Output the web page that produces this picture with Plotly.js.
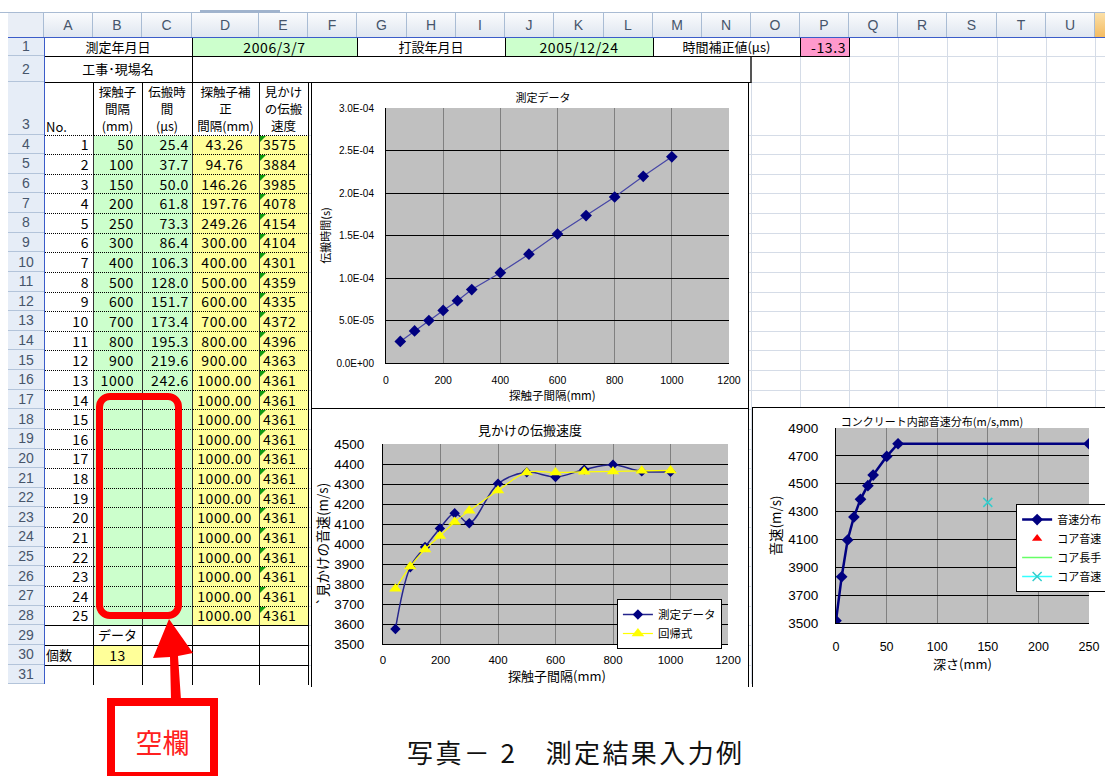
<!DOCTYPE html>
<html><head><meta charset="utf-8">
<script src="https://cdn.plot.ly/plotly-3.0.1.min.js"></script>
<style>
html,body{margin:0;padding:0;background:#fff;}
body{width:1105px;height:776px;overflow:hidden;position:relative;font-family:"Noto Sans CJK JP","Noto Sans",sans-serif;}
#clip{position:absolute;left:0;top:0;width:1105px;height:687px;overflow:hidden;}
.c{position:absolute;box-sizing:border-box;display:flex;align-items:center;overflow:hidden;white-space:nowrap;font-size:13px;color:#000;line-height:16px;}
.num{font-size:14px;letter-spacing:0.6px;}
.frame{position:absolute;box-sizing:border-box;border:1px solid #000;background:#fff;overflow:hidden;}
.frame>div{position:absolute;left:0;top:0;}
</style></head><body>
<div id="clip">
  <div id="sheet"></div>
  <div class="frame" style="left:311px;top:82px;width:438px;height:327px;"><div id="ch1"></div></div>
  <div class="frame" style="left:311px;top:408px;width:438px;height:290px;"><div id="ch2"></div></div>
  <div class="frame" style="left:752px;top:407px;width:402px;height:290px;"><div id="ch3"></div></div>
</div>
<div id="notes"></div>
<script>
// ---------------- data ----------------
const measureDate = '2006/3/7';
const castDate = '2005/12/24';
const timeCorrection = '-13.3';
const rowNumbers = [1,2,3,4,5,6,7,8,9,10,11,12,13,14,15,16,17,18,19,20,21,22,23,24,25];
const probeSpacing = [50,100,150,200,250,300,400,500,600,700,800,900,1000];            // mm
const travelTime = [25.4,37.7,50.0,61.8,73.3,86.4,106.3,128.0,151.7,173.4,195.3,219.6,242.6]; // µs
const correctedSpacing = [43.26,94.76,146.26,197.76,249.26,300.00,400.00,500.00,600.00,700.00,800.00,900.00,1000.00,
  1000.00,1000.00,1000.00,1000.00,1000.00,1000.00,1000.00,1000.00,1000.00,1000.00,1000.00,1000.00];
const apparentVelocity = [3575,3884,3985,4078,4154,4104,4301,4359,4335,4372,4396,4363,4361,
  4361,4361,4361,4361,4361,4361,4361,4361,4361,4361,4361,4361];
const dataCount = 13;
const regressionVelocity = [3776,3888,3973,4040,4110,4166,4268,4358,4358,4361,4363,4366,4368];
const depth = [0,5.6,11.5,17.7,24.2,31.5,36.7,50.1,61.3,250];
const velocityProfile = [3517,3832,4096,4261,4388,4486,4562,4696,4787,4787];
const coreDepth = [150];
const coreVelocity = [4366];
const coreTriangleDepth = [null];
const coreTriangleVelocity = [null];
const coreLengthDepth = [null];
const coreLengthVelocity = [null];
const timeTickVals = [0,50,100,150,200,250,300];
const timeTickText = ['0.0E+00','5.0E-05','1.0E-04','1.5E-04','2.0E-04','2.5E-04','3.0E-04'];
const colLetters = ['A','B','C','D','E','F','G','H','I','J','K','L','M','N','O','P','Q','R','S','T','U',''];

// ---------------- spreadsheet ----------------
const colEdges = [44,93,142,192,259,308,357,407,456,505,554,604,653,702,751,800,849,898,947,997,1046,1095,1144];
function rowTop(n){ if(n===1) return 37; if(n===2) return 56; if(n===3) return 82; return 134.5+(n-4)*19.63; }
function rowBot(n){ return n===31 ? 684 : rowTop(n+1); }
const S = document.getElementById('sheet');
function el(x,y,w,h,css,html,cls){
  const d=document.createElement('div'); d.className='c'+(cls?' '+cls:'');
  d.style.cssText='left:'+x+'px;top:'+y+'px;width:'+w+'px;height:'+h+'px;'+(css||'');
  if(html!=null) d.innerHTML=html; S.appendChild(d); return d;
}
function line(x,y,w,h,color){ return el(x,y,w,h,'background:'+color+';'); }
function cell(c0,c1,n,text,o){
  o=o||{};
  const x0=colEdges[c0], x1=colEdges[c1+1], y0=rowTop(n), y1=rowBot(n);
  let css='background:'+(o.bg||'#fff')+';border-right:'+(o.br||'1px solid #000')+';border-bottom:'+(o.bb||'1px solid #000')+';';
  css+='justify-content:'+(o.jc||'center')+';align-items:'+(o.ai||'center')+';';
  if(o.pad) css+='padding:'+o.pad+';';
  if(o.extra) css+=o.extra;
  return el(x0,y0,x1-x0+1,y1-y0+1,css,text,o.cls);
}
const GRID='#d5dce7';
colEdges.forEach(x=>line(x,37,1,647,GRID));
for(let n=1;n<=31;n++) line(44,rowTop(n),1061,1,GRID);

// top strip
line(0,12,1105,1,'#a9bbd3');
line(200,10,80,3,'#a0b3cd');
// column headers
el(8,13,36,24,'background:#e9eef6;border-right:1px solid #a9bcd4;');
for(let i=0;i<colLetters.length;i++){
  const x0=colEdges[i], x1=colEdges[i+1];
  const bg = colLetters[i]==='' ? 'linear-gradient(#fbe0a8,#f4bc62)' : 'linear-gradient(#fafbfd,#dfe6f0)';
  el(x0,13,x1-x0,24,'background:'+bg+';border-right:1px solid #a9bcd4;justify-content:center;color:#46556b;font-size:14px;font-family:Liberation Sans,sans-serif;',colLetters[i]);
}
// row headers
for(let n=1;n<=31;n++){
  const y0=rowTop(n), y1=rowBot(n);
  el(8,y0,36,y1-y0,'background:#e6edf7;border-bottom:1px solid #b3c4da;justify-content:center;color:#46556b;font-size:14px;font-family:Liberation Sans,sans-serif;'+(n===3?'align-items:flex-end;padding-bottom:2px;':''),String(n));
}
// Cells are drawn from the bottom-right towards the top-left so each cell's right/bottom border stays visible.
const cellQueue = [];
function q(){ cellQueue.push(arguments); }
// row 1
q(0,2,1,'測定年月日');
q(3,5,1,measureDate,{bg:'#ccffcc',cls:'num'});
q(6,8,1,'打設年月日');
q(9,11,1,castDate,{bg:'#ccffcc',cls:'num'});
q(12,14,1,'時間補正値(μs)');
q(15,15,1,timeCorrection,{bg:'#ff99cc',jc:'flex-end',pad:'0 3px 0 0',cls:'num'});
// row 2
q(0,2,2,'工事･現場名');
q(3,13,2,'',{br:'2px solid #555'});
// row 3 headers
q(0,0,3,'No.',{jc:'flex-start',ai:'flex-end',pad:'0 0 0 2px',bb:'1px dotted #000'});
const hdr3 = ['探触子<br>間隔<br>(mm)','伝搬時<br>間<br>(μs)','探触子補<br>正<br>間隔(mm)','見かけ<br>の伝搬<br>速度'];
hdr3.forEach((t,i)=>q(i+1,i+1,3,'<div style="text-align:center;line-height:17px;font-size:12.5px">'+t+'</div>',{ai:'flex-end',pad:'0 0 1px 0',bb:'1px dotted #000'}));
// data rows
for(let k=0;k<rowNumbers.length;k++){
  const n=k+4, last=(k===rowNumbers.length-1);
  const bb = last ? '1px solid #000' : '1px dotted #000';
  q(0,0,n,String(rowNumbers[k]),{jc:'flex-end',pad:'0 4px 0 0',bb:bb,br:'1px solid #333',cls:'num'});
  q(1,1,n,k<probeSpacing.length?String(probeSpacing[k]):'',{bg:'#ccffcc',jc:'flex-end',pad:'0 8px 0 0',bb:bb,br:'1px solid #333',cls:'num'});
  q(2,2,n,k<travelTime.length?travelTime[k].toFixed(1):'',{bg:'#ccffcc',jc:'flex-end',pad:'0 3px 0 0',bb:bb,br:'1px solid #333',cls:'num'});
  q(3,3,n,correctedSpacing[k].toFixed(2),{bg:'#ffff99',jc:'center',pad:'0 2px 0 0',bb:bb,br:'1px solid #333',cls:'num'});
  q(4,4,n,String(apparentVelocity[k]),{bg:'#ffff99',jc:'flex-start',pad:'0 0 0 4px',bb:bb,br:'1px solid #000',cls:'num',tri:true});
}
q(0,0,29,''); q(1,1,29,'データ'); q(2,2,29,''); q(3,3,29,''); q(4,4,29,'');
q(0,0,30,'個数',{jc:'flex-start',pad:'0 0 0 2px'}); q(1,1,30,String(dataCount),{bg:'#ffff99',cls:'num'});
q(2,2,30,''); q(3,3,30,''); q(4,4,30,'');
q(0,0,31,'',{bb:'none'}); q(1,1,31,'',{bb:'none'}); q(2,2,31,'',{bb:'none'}); q(3,3,31,'',{bb:'none'}); q(4,4,31,'',{bb:'none'});
cellQueue.sort((a,b)=> (b[2]-a[2]) || (b[0]-a[0]));
cellQueue.forEach(a=>{
  const d = cell.apply(null,a);
  const o = a[4]||{};
  if(o.tri){
    const tri=document.createElement('div');
    tri.style.cssText='position:absolute;left:1px;top:1px;width:0;height:0;border-top:6px solid #119a11;border-right:6px solid transparent;';
    d.appendChild(tri);
  }
});
// blue frame lines
line(8,37,1097,1,'#3b5cc9');
line(44,37,1,647,'#3b5cc9');

// ---------------- charts ----------------
const FONT = '"Noto Sans CJK JP", "Noto Sans", sans-serif';
const NUMFONT = '"Liberation Sans", Arial, sans-serif';
const cfg = {staticPlot:true, displayModeBar:false};

Plotly.newPlot('ch1', [{
  x: probeSpacing, y: travelTime, type:'scatter', mode:'lines+markers', name:'測定データ',
  line:{color:'#4646a6', width:1.2},
  marker:{symbol:'diamond', size:9, color:'#000080'}
}], {
  width:436, height:325, margin:{l:74,r:19,t:25,b:45},
  paper_bgcolor:'#fff', plot_bgcolor:'#c0c0c0', showlegend:false,
  font:{family:FONT, color:'#000'},
  title:{text:'測定データ', font:{size:11, family:FONT}, xref:'container', yref:'container', x:0.53, y:0.954, xanchor:'center', yanchor:'middle'},
  xaxis:{range:[0,1200], tick0:0, dtick:200, showgrid:true, gridcolor:'#808080', gridwidth:1, zeroline:false,
    showline:true, linecolor:'#000', linewidth:1, ticks:'', tickfont:{size:10.5, family:NUMFONT}, ticklabelstandoff:7},
  yaxis:{range:[0,300], tickvals:timeTickVals, ticktext:timeTickText, showgrid:true, gridcolor:'#000', gridwidth:1, zeroline:false,
    showline:true, linecolor:'#000', linewidth:1, ticks:'', tickfont:{size:10, family:NUMFONT}, ticklabelstandoff:9,
    title:{text:'伝搬時間(s)', font:{size:11}, standoff:3}},
  annotations:[{text:'探触子間隔(mm)', xref:'paper', yref:'paper', x:0.484, y:0, yshift:-32, xanchor:'center', yanchor:'middle', showarrow:false, font:{size:11.5}}]
}, cfg);

Plotly.newPlot('ch2', [{
  x: correctedSpacing.slice(0,dataCount), y: apparentVelocity.slice(0,dataCount), type:'scatter', mode:'lines+markers', name:'測定データ',
  line:{color:'#25258c', width:1.5, shape:'spline', smoothing:1},
  marker:{symbol:'diamond', size:8, color:'#000080'}
},{
  x: correctedSpacing.slice(0,dataCount), y: regressionVelocity, type:'scatter', mode:'lines+markers', name:'回帰式',
  line:{color:'#ffff00', width:1.2, shape:'spline', smoothing:1},
  marker:{symbol:'triangle-up', size:11, color:'#ffff00'}
}], {
  width:436, height:288, margin:{l:71,r:20,t:35,b:53},
  paper_bgcolor:'#fff', plot_bgcolor:'#c0c0c0',
  font:{family:FONT, color:'#000'},
  title:{text:'見かけの伝搬速度', font:{size:13, family:FONT}, xref:'container', yref:'container', x:0.5, y:0.927, xanchor:'center', yanchor:'middle'},
  legend:{x:0.678, y:0.225, xanchor:'left', yanchor:'top', bgcolor:'#fff', bordercolor:'#000', borderwidth:1, font:{size:11.5}, tracegroupgap:0},
  xaxis:{range:[0,1200], tick0:0, dtick:200, showgrid:true, gridcolor:'#808080', gridwidth:1, zeroline:false,
    showline:true, linecolor:'#000', linewidth:1, ticks:'', tickfont:{size:11.5, family:NUMFONT}, ticklabelstandoff:5},
  yaxis:{range:[3500,4500], tick0:3500, dtick:100, showgrid:true, gridcolor:'#000', gridwidth:1, zeroline:false,
    showline:true, linecolor:'#000', linewidth:1, ticks:'', tickfont:{size:13.5, family:NUMFONT}, ticklabelstandoff:15,
    title:{text:'`見かけの音速(m/s)', font:{size:13.5}, standoff:3}},
  annotations:[{text:'探触子間隔(mm)', xref:'paper', yref:'paper', x:0.504, y:0, yshift:-31, xanchor:'center', yanchor:'middle', showarrow:false, font:{size:13}}]
}, cfg);

Plotly.newPlot('ch3', [{
  x: depth, y: velocityProfile, type:'scatter', mode:'lines+markers', name:'音速分布',
  line:{color:'#000080', width:2.5},
  marker:{symbol:'diamond', size:9, color:'#000080'}
},{
  x: coreTriangleDepth, y: coreTriangleVelocity, type:'scatter', mode:'markers', name:'コア音速',
  marker:{symbol:'triangle-up', size:9, color:'#ff0000'}
},{
  x: coreLengthDepth, y: coreLengthVelocity, type:'scatter', mode:'lines', name:'コア長手',
  line:{color:'#66ff66', width:1.5}
},{
  x: coreDepth, y: coreVelocity, type:'scatter', mode:'lines+markers', name:'コア音速',
  line:{color:'#33ffff', width:1.5},
  marker:{symbol:'x-thin', size:9, color:'#33cccc', line:{color:'#33cccc', width:1.5}}
}], {
  width:400, height:288, margin:{l:83,r:64,t:20,b:73},
  paper_bgcolor:'#fff', plot_bgcolor:'#c0c0c0',
  font:{family:FONT, color:'#000'},
  title:{text:'コンクリート内部音速分布(m/s,mm)', font:{size:11, family:FONT}, xref:'container', yref:'container', x:0.4475, y:0.951, xanchor:'center', yanchor:'middle'},
  legend:{x:0.712, y:0.61, xanchor:'left', yanchor:'top', bgcolor:'#fff', bordercolor:'#000', borderwidth:1, font:{size:11}, tracegroupgap:0},
  xaxis:{range:[0,250], tick0:0, dtick:50, showgrid:true, gridcolor:'#808080', gridwidth:1, zeroline:false,
    showline:true, linecolor:'#000', linewidth:1, ticks:'', tickfont:{size:12.5, family:NUMFONT}, ticklabelstandoff:12,
    title:{text:'深さ(mm)', font:{size:13}, standoff:3}},
  yaxis:{range:[3500,4900], tick0:3500, dtick:200, showgrid:true, gridcolor:'#000', gridwidth:1, zeroline:false,
    showline:true, linecolor:'#000', linewidth:1, ticks:'', tickfont:{size:13.5, family:NUMFONT}, ticklabelstandoff:14,
    title:{text:'音速(m/s)', font:{size:13.5}, standoff:3}}
}, cfg);

// ---------------- callouts & caption ----------------
const N = document.getElementById('notes');
function add(html){ N.insertAdjacentHTML('beforeend', html); }
add('<div style="position:absolute;left:96px;top:393px;width:86px;height:226px;box-sizing:border-box;border:7px solid #ff0000;border-radius:14px;"></div>');
add('<svg style="position:absolute;left:0;top:0" width="1105" height="776"><polygon points="169,619 193,653 178,656 181,700 171,700 170,657 153,658" fill="#ff0000"/></svg>');
add('<div style="position:absolute;left:107px;top:698px;width:111px;height:82px;box-sizing:border-box;border:8px solid #ff0000;background:#fff;display:flex;align-items:center;justify-content:center;color:#ff2020;font-size:27px;padding-top:4px;">空欄</div>');
add('<div style="position:absolute;left:407px;top:736px;font-size:26px;line-height:32px;color:#111;letter-spacing:2.4px;white-space:nowrap;">写真－ 2　測定結果入力例</div>');
</script>
</body></html>
